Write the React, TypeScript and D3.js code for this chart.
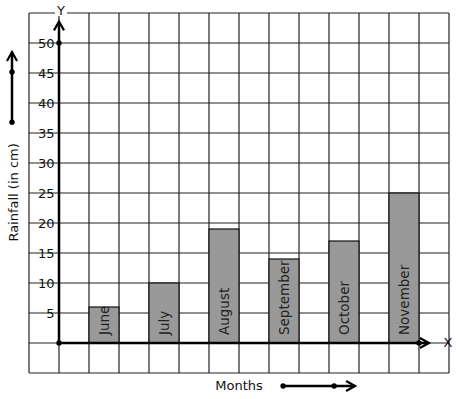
import React from "react";
import * as d3 from "d3";

const months = ["June", "July", "August", "September", "October", "November"];
const rainfall = [6, 10, 19, 14, 17, 25];
const yTicks = [5, 10, 15, 20, 25, 30, 35, 40, 45, 50];

const W = 457;
const H = 399;
const FONT = "DejaVu Sans, sans-serif";

export default function App() {
  // grid: 14 columns (-1..13) x 12 rows (-5..55)
  const x = d3.scaleLinear().domain([-1, 13]).range([29, 449]);
  const y = d3.scaleLinear().domain([-5, 55]).range([373, 13]);
  const colLines = d3.range(-1, 14);
  const rowLines = d3.range(-5, 56, 5);

  const chevron = (tx: number, ty: number, dir: "up" | "right", key: string) => {
    const pts =
      dir === "up"
        ? [[tx - 5, ty + 9], [tx, ty], [tx + 5, ty + 9]]
        : [[tx - 9, ty - 5], [tx, ty], [tx - 9, ty + 5]];
    return (
      <path
        key={key}
        d={d3.line()(pts as [number, number][]) || ""}
        fill="none"
        stroke="#000"
        strokeWidth={2.2}
      />
    );
  };

  const axisY0 = y(0);
  const axisX0 = x(0);

  return (
    <svg
      width={W}
      height={H}
      style={{ position: "absolute", left: 0, top: 0, background: "#fff" }}
      fontFamily={FONT}
    >
      <rect x={0} y={0} width={W} height={H} fill="#fff" />
      {/* grid */}
      <g stroke="#222" strokeWidth={1.2}>
        {colLines.map((c) => (
          <line key={"c" + c} x1={x(c)} x2={x(c)} y1={y(55)} y2={y(-5)} />
        ))}
        {rowLines.map((r) => (
          <line key={"r" + r} x1={x(-1)} x2={x(13)} y1={y(r)} y2={y(r)} />
        ))}
      </g>
      {/* bars */}
      {months.map((m, i) => {
        const c = 1 + 2 * i;
        return (
          <rect
            key={m}
            x={x(c)}
            y={y(rainfall[i])}
            width={x(c + 1) - x(c)}
            height={y(0) - y(rainfall[i])}
            fill="#999"
            stroke="#111"
            strokeWidth={1.2}
          />
        );
      })}
      {/* month labels */}
      {months.map((m, i) => {
        const cx = x(1.5 + 2 * i);
        return (
          <text
            key={"l" + m}
            transform={`translate(${cx + 5},${axisY0 - 8}) rotate(-90)`}
            fontSize={13.5}
            fill="#222"
          >
            {m}
          </text>
        );
      })}
      {/* y tick labels */}
      {yTicks.map((t) => (
        <text
          key={"t" + t}
          x={x(-0.15)}
          y={y(t)}
          dy="0.36em"
          textAnchor="end"
          fontSize={13}
          fill="#111"
        >
          {t}
        </text>
      ))}
      {/* axes */}
      <line x1={axisX0} x2={axisX0} y1={axisY0} y2={y(53.3)} stroke="#000" strokeWidth={2.5} />
      {chevron(axisX0, y(53.6), "up", "ya")}
      <line x1={axisX0} x2={x(12.33)} y1={axisY0} y2={axisY0} stroke="#000" strokeWidth={2.5} />
      {chevron(x(12.33), axisY0, "right", "xa")}
      <circle cx={axisX0} cy={y(50)} r={2.7} fill="#000" />
      <circle cx={axisX0} cy={axisY0} r={2.7} fill="#000" />
      <circle cx={x(12)} cy={axisY0} r={2.7} fill="#000" />
      {/* Y / X labels */}
      <rect x={55} y={4} width={12} height={12} fill="#fff" />
      <text x={61} y={15} textAnchor="middle" fontSize={13} fill="#111">Y</text>
      <text x={448} y={347} textAnchor="middle" fontSize={13} fill="#111">X</text>
      {/* left arrow */}
      <line x1={12} x2={12} y1={y(36.8)} y2={y(48.5)} stroke="#000" strokeWidth={2.5} />
      {chevron(12, y(48.5), "up", "la")}
      <circle cx={12} cy={y(45.17)} r={2.7} fill="#000" />
      <circle cx={12} cy={y(36.8)} r={2.7} fill="#000" />
      <text
        transform={`translate(18,${y(25.1)}) rotate(-90)`}
        textAnchor="middle"
        fontSize={13}
        fill="#111"
      >
        Rainfall (in cm)
      </text>
      {/* bottom label and arrow */}
      <text x={239} y={390} textAnchor="middle" fontSize={13} fill="#111">Months</text>
      <line x1={x(7.47)} x2={x(9.87)} y1={386} y2={386} stroke="#000" strokeWidth={2.5} />
      {chevron(x(9.87), 386, "right", "ma")}
      <circle cx={x(7.47)} cy={386} r={2.7} fill="#000" />
      <circle cx={x(9.17)} cy={386} r={2.7} fill="#000" />
    </svg>
  );
}
